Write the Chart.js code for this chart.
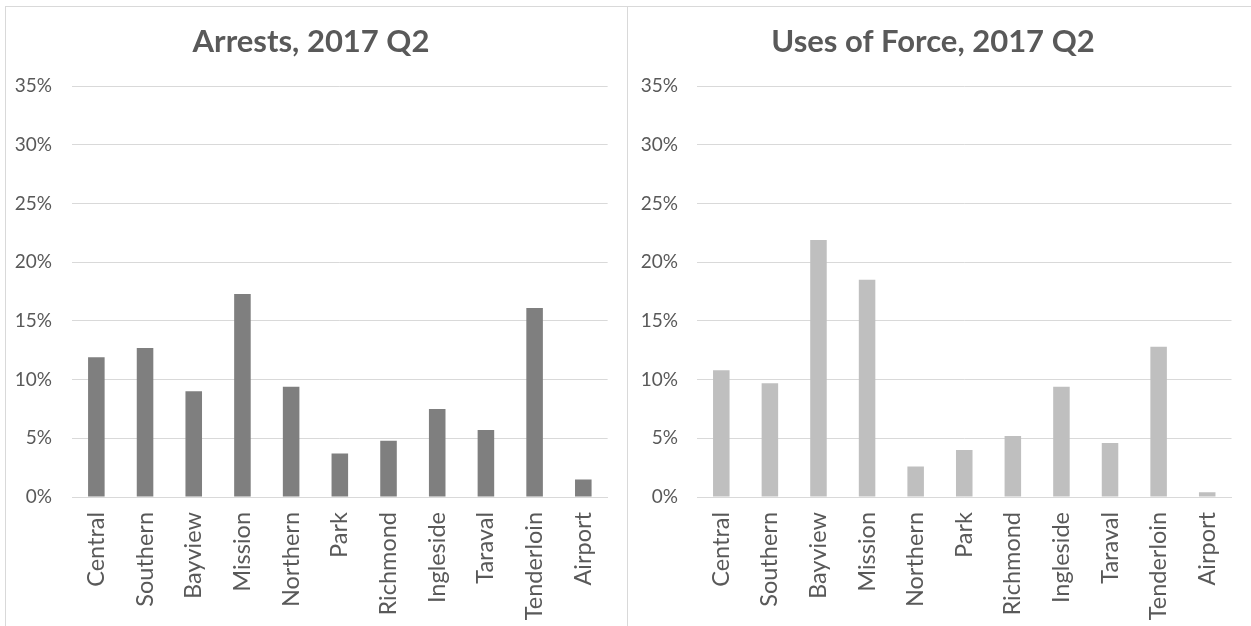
<!DOCTYPE html>
<html>
<head>
<meta charset="utf-8">
<script src="https://cdn.jsdelivr.net/npm/chart.js@4.4.0/dist/chart.umd.min.js"></script>
<style>
  html, body { margin: 0; padding: 0; background: #ffffff; }
  body { width: 1251px; height: 626px; position: relative; overflow: hidden; }
  .frame { position: absolute; background: #d9d9d9; }
  canvas { position: absolute; }
</style>
</head>
<body>
<div class="frame" style="left:5px; top:6px; width:1246px; height:1px;"></div>
<div class="frame" style="left:5px; top:6px; width:1px; height:620px;"></div>
<div class="frame" style="left:627px; top:6px; width:1px; height:620px;"></div>
<canvas id="arrests" width="621" height="619" style="left:6px; top:7px;"></canvas>
<canvas id="force" width="623" height="619" style="left:628px; top:7px;"></canvas>
<script>
const districts = ["Central", "Southern", "Bayview", "Mission", "Northern", "Park", "Richmond", "Ingleside", "Taraval", "Tenderloin", "Airport"];
const arrestsPct = [11.9, 12.7, 9.0, 17.3, 9.4, 3.7, 4.8, 7.5, 5.7, 16.1, 1.5];
const forcePct = [10.8, 9.7, 21.9, 18.5, 2.6, 4.0, 5.2, 9.4, 4.6, 12.8, 0.4];
const yTicks = [0, 5, 10, 15, 20, 25, 30, 35];
const titles = ["Arrests, 2017 Q2", "Uses of Force, 2017 Q2"];

const FONT = "Lato, 'Open Sans', 'Liberation Sans', sans-serif";
const TEXT = "#595959";
const GRID = "#d9d9d9";

function makeChart(id, title, values, color, yWidth, yPad, rightPad) {
  return new Chart(document.getElementById(id), {
    type: "bar",
    data: {
      labels: districts,
      datasets: [{ data: values, backgroundColor: color, borderWidth: 0,
                   categoryPercentage: 1.0, barPercentage: 0.34 }]
    },
    options: {
      responsive: false,
      animation: false,
      devicePixelRatio: 1,
      layout: { padding: { left: 0, right: rightPad, top: 0, bottom: 0 } },
      plugins: {
        legend: { display: false },
        tooltip: { enabled: false },
        title: {
          display: true, text: title, color: TEXT,
          font: { family: FONT, size: 31, weight: "bold" },
          padding: { top: 16, bottom: 26 }
        }
      },
      scales: {
        x: {
          grid: { display: false, drawTicks: false },
          border: { display: true, color: GRID, width: 1 },
          ticks: { color: TEXT, font: { family: FONT, size: 23.5 },
                   minRotation: 90, maxRotation: 90, autoSkip: false, padding: 15 },
          afterFit(scale) { scale.height = 129; }
        },
        y: {
          min: 0, max: 35,
          afterBuildTicks(scale) { scale.ticks = yTicks.map(v => ({ value: v })); },
          grid: { color: GRID, lineWidth: 1, drawTicks: false },
          border: { display: false },
          ticks: { color: TEXT, font: { family: FONT, size: 19 }, padding: yPad,
                   callback: v => v + "%" },
          afterFit(scale) { scale.width = yWidth; }
        }
      }
    }
  });
}

makeChart("arrests", titles[0], arrestsPct, "#7f7f7f", 66, 20, 11);
makeChart("force", titles[1], forcePct, "#bfbfbf", 69, 19, 13);
</script>
</body>
</html>
